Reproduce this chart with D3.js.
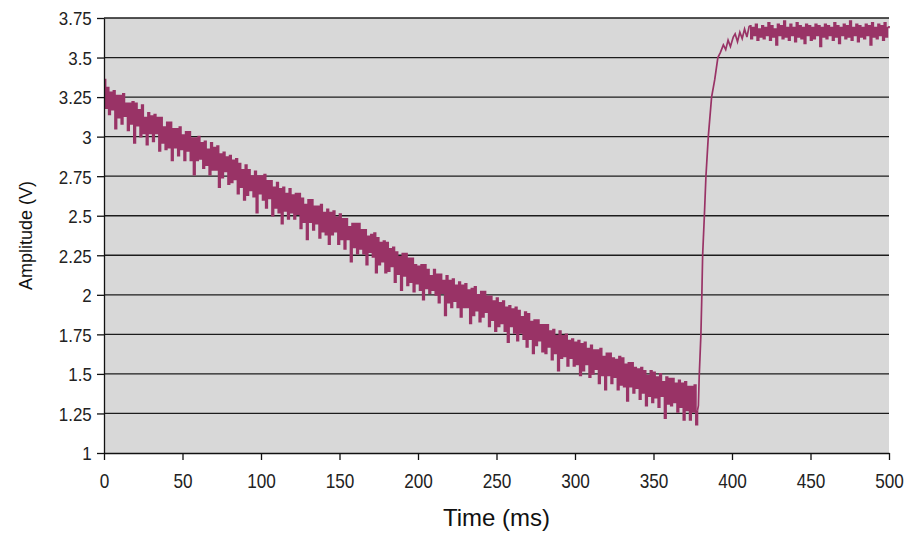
<!DOCTYPE html>
<html>
<head>
<meta charset="utf-8">
<script src="https://cdn.jsdelivr.net/npm/d3@7"></script>
<style>
  body { margin: 0; background: #fff; }
  text { font-family: "Liberation Sans", Arial, sans-serif; }
</style>
</head>
<body>
<div id="chart"></div>
<script>
// ------------------------------------------------------------
//  Discharge / recharge trace, Amplitude (V) vs Time (ms)
// ------------------------------------------------------------

// falling part, one sample per ms starting at 0 ms
const fallStartMs = 0;
const fallStepMs = 1;
const fallValues = [
    3.36, 3.18, 3.31, 3.14, 3.28, 3.17, 3.29, 3.05, 3.26, 3.12,
    3.26, 3.08, 3.27, 3.13, 3.21, 3.04, 3.21, 3.08, 3.22, 2.96,
    3.21, 3.07, 3.17, 3.00, 3.20, 3.02, 3.12, 2.95, 3.15, 3.02,
    3.13, 2.97, 3.14, 3.02, 3.12, 2.91, 3.12, 2.96, 3.06, 2.92,
    3.09, 2.93, 3.09, 2.85, 3.05, 2.93, 3.05, 2.88, 3.06, 2.92,
    3.01, 2.85, 3.03, 2.91, 3.03, 2.85, 2.99, 2.76, 2.99, 2.85,
    3.00, 2.86, 2.96, 2.80, 2.97, 2.82, 2.92, 2.76, 2.96, 2.79,
    2.93, 2.79, 2.94, 2.68, 2.89, 2.74, 2.90, 2.78, 2.87, 2.70,
    2.88, 2.71, 2.85, 2.73, 2.86, 2.64, 2.83, 2.68, 2.79, 2.60,
    2.82, 2.63, 2.79, 2.66, 2.75, 2.62, 2.78, 2.52, 2.75, 2.64,
    2.75, 2.60, 2.76, 2.55, 2.72, 2.61, 2.72, 2.50, 2.68, 2.55,
    2.71, 2.52, 2.67, 2.45, 2.68, 2.53, 2.64, 2.48, 2.67, 2.52,
    2.63, 2.48, 2.64, 2.51, 2.64, 2.42, 2.61, 2.46, 2.57, 2.35,
    2.60, 2.46, 2.60, 2.41, 2.56, 2.45, 2.56, 2.36, 2.57, 2.40,
    2.52, 2.38, 2.54, 2.32, 2.52, 2.38, 2.53, 2.40, 2.49, 2.32,
    2.51, 2.35, 2.48, 2.29, 2.48, 2.35, 2.43, 2.21, 2.45, 2.30,
    2.45, 2.26, 2.45, 2.29, 2.41, 2.26, 2.41, 2.19, 2.37, 2.27,
    2.38, 2.24, 2.39, 2.14, 2.36, 2.19, 2.33, 2.21, 2.34, 2.14,
    2.33, 2.15, 2.29, 2.18, 2.30, 2.08, 2.27, 2.13, 2.24, 2.03,
    2.26, 2.12, 2.26, 2.06, 2.23, 2.08, 2.23, 2.02, 2.19, 2.07,
    2.18, 2.03, 2.19, 1.97, 2.19, 2.04, 2.16, 2.01, 2.12, 2.03,
    2.16, 2.00, 2.13, 1.95, 2.13, 2.01, 2.09, 1.87, 2.12, 1.95,
    2.09, 1.92, 2.10, 1.96, 2.06, 1.92, 2.08, 1.86, 2.06, 1.92,
    2.07, 1.92, 2.03, 1.82, 2.04, 1.87, 2.05, 1.90, 2.00, 1.83,
    2.02, 1.86, 2.02, 1.89, 1.99, 1.80, 1.99, 1.84, 1.96, 1.77,
    1.98, 1.80, 1.95, 1.82, 1.96, 1.77, 1.92, 1.70, 1.93, 1.80,
    1.91, 1.76, 1.92, 1.71, 1.90, 1.76, 1.86, 1.72, 1.89, 1.67,
    1.88, 1.72, 1.83, 1.63, 1.84, 1.68, 1.84, 1.71, 1.81, 1.64,
    1.81, 1.63, 1.81, 1.67, 1.77, 1.59, 1.78, 1.63, 1.74, 1.52,
    1.77, 1.60, 1.74, 1.61, 1.75, 1.55, 1.71, 1.60, 1.72, 1.55,
    1.70, 1.56, 1.71, 1.49, 1.69, 1.52, 1.70, 1.56, 1.66, 1.48,
    1.68, 1.50, 1.65, 1.53, 1.65, 1.44, 1.66, 1.49, 1.61, 1.40,
    1.63, 1.49, 1.63, 1.44, 1.60, 1.48, 1.59, 1.40, 1.61, 1.43,
    1.60, 1.42, 1.56, 1.33, 1.57, 1.42, 1.57, 1.38, 1.54, 1.41,
    1.53, 1.34, 1.54, 1.38, 1.52, 1.30, 1.49, 1.36, 1.52, 1.32,
    1.51, 1.35, 1.48, 1.29, 1.50, 1.36, 1.45, 1.22, 1.48, 1.31,
    1.47, 1.30, 1.47, 1.32, 1.44, 1.26, 1.46, 1.29, 1.44, 1.21,
    1.45, 1.27, 1.42, 1.21, 1.42, 1.26, 1.43, 1.18, 1.27
];

// steep recharge, irregular sample times
const riseTimes  = [378.6, 379.1, 380.2, 380.8, 381.3, 382.4, 383.4, 384.9, 387.0, 389.0,
                    391.0, 392.5, 394.5, 396.0, 397.5, 399.0, 400.8, 402.0, 403.5, 405.0,
                    406.5, 408.0, 409.5];
const riseValues = [1.30, 1.48, 1.75, 2.00, 2.25, 2.50, 2.75, 3.00, 3.25, 3.36,
                    3.50, 3.53, 3.58, 3.55, 3.61, 3.57, 3.63, 3.65, 3.60, 3.66,
                    3.62, 3.68, 3.63];

// flat top, one sample per ms starting at 411 ms
const plateauStartMs = 411;
const plateauStepMs = 1;
const plateauValues = [
    3.70, 3.62, 3.69, 3.64, 3.71, 3.61, 3.68, 3.63, 3.70, 3.62,
    3.69, 3.64, 3.72, 3.61, 3.70, 3.63, 3.68, 3.58, 3.71, 3.64,
    3.70, 3.62, 3.73, 3.63, 3.69, 3.61, 3.71, 3.64, 3.69, 3.60,
    3.72, 3.63, 3.70, 3.62, 3.69, 3.59, 3.71, 3.64, 3.70, 3.61,
    3.69, 3.62, 3.71, 3.64, 3.70, 3.57, 3.69, 3.63, 3.71, 3.62,
    3.70, 3.64, 3.69, 3.61, 3.72, 3.63, 3.70, 3.59, 3.69, 3.64,
    3.71, 3.62, 3.70, 3.63, 3.73, 3.61, 3.69, 3.64, 3.71, 3.60,
    3.70, 3.63, 3.69, 3.62, 3.71, 3.64, 3.70, 3.58, 3.72, 3.63,
    3.69, 3.62, 3.71, 3.64, 3.70, 3.61, 3.72, 3.63, 3.69, 3.70
];

const xTicks = [0, 50, 100, 150, 200, 250, 300, 350, 400, 450, 500];
const yTicks = [1, 1.25, 1.5, 1.75, 2, 2.25, 2.5, 2.75, 3, 3.25, 3.5, 3.75];

function render() {
    const W = 909, H = 540;
    const margin = { top: 18, right: 20, bottom: 87, left: 104 };
    const width = W - margin.left - margin.right;
    const height = H - margin.top - margin.bottom;

    const svg = d3.select('#chart').append('svg')
        .attr('width', W)
        .attr('height', H)
        .append('g')
        .attr('transform', `translate(${margin.left},${margin.top})`);

    // --- Data ---
    const fallPts = fallValues.map((v, i) => ({ t: fallStartMs + i * fallStepMs, v }));
    const plateauPts = plateauValues.map((v, i) => ({ t: plateauStartMs + i * plateauStepMs, v }));
    const risePts = [
        fallPts[fallPts.length - 1],
        ...riseValues.map((v, i) => ({ t: riseTimes[i], v })),
        plateauPts[0]
    ];

    // --- Scales ---
    const x = d3.scaleLinear().domain([0, 500]).range([0, width]);
    const y = d3.scaleLinear().domain([1, 3.75]).range([height, 0]);

    // plot background
    svg.append('rect')
        .attr('width', width)
        .attr('height', height)
        .attr('fill', '#d8d8d8');

    // horizontal grid
    svg.append('g')
        .selectAll('line')
        .data(yTicks.slice(1))
        .enter().append('line')
        .attr('x1', 0).attr('x2', width)
        .attr('y1', d => y(d)).attr('y2', d => y(d))
        .attr('stroke', '#1c1c1c')
        .attr('stroke-width', 1.3);

    // --- Trace ---
    // noisy parts: each sample held until the next, like a scope trace
    const stepLine = d3.line()
        .x(d => x(d.t))
        .y(d => y(d.v))
        .curve(d3.curveStepAfter);
    const smoothLine = d3.line()
        .x(d => x(d.t))
        .y(d => y(d.v));

    [fallPts, plateauPts].forEach(pts => {
        svg.append('path')
            .datum(pts)
            .attr('d', stepLine)
            .attr('fill', 'none')
            .attr('stroke', '#993366')
            .attr('stroke-width', 1.7);
    });

    svg.append('path')
        .datum(risePts)
        .attr('d', smoothLine)
        .attr('fill', 'none')
        .attr('stroke', '#993366')
        .attr('stroke-width', 1.7);

    // --- Axes ---
    const yAxis = svg.append('g')
        .call(d3.axisLeft(y).tickValues(yTicks).tickFormat(d => String(d))
            .tickSize(7).tickSizeOuter(0).tickPadding(6));
    yAxis.selectAll('text')
        .attr('font-size', 18)
        .attr('fill', '#222')
        .attr('dy', '0.38em')
        .attr('transform', 'scale(0.94,1)');

    const xAxis = svg.append('g')
        .attr('transform', `translate(0,${height})`)
        .call(d3.axisBottom(x).tickValues(xTicks)
            .tickSize(7).tickSizeOuter(0).tickPadding(14));
    xAxis.selectAll('text')
        .attr('font-size', 20)
        .attr('fill', '#222')
        .attr('transform', 'scale(0.86,1)');

    svg.selectAll('.domain, .tick line')
        .attr('stroke', '#111')
        .attr('stroke-width', 1.3);

    // --- Axis labels ---
    svg.append('text')
        .attr('x', width / 2)
        .attr('y', height + 73)
        .attr('text-anchor', 'middle')
        .attr('font-size', 24)
        .attr('fill', '#111')
        .text('Time (ms)');

    svg.append('text')
        .attr('transform', `translate(${32 - margin.left},${height / 2}) rotate(-90)`)
        .attr('text-anchor', 'middle')
        .attr('font-size', 18)
        .attr('fill', '#111')
        .text('Amplitude (V)');
}

render();
</script>
</body>
</html>
